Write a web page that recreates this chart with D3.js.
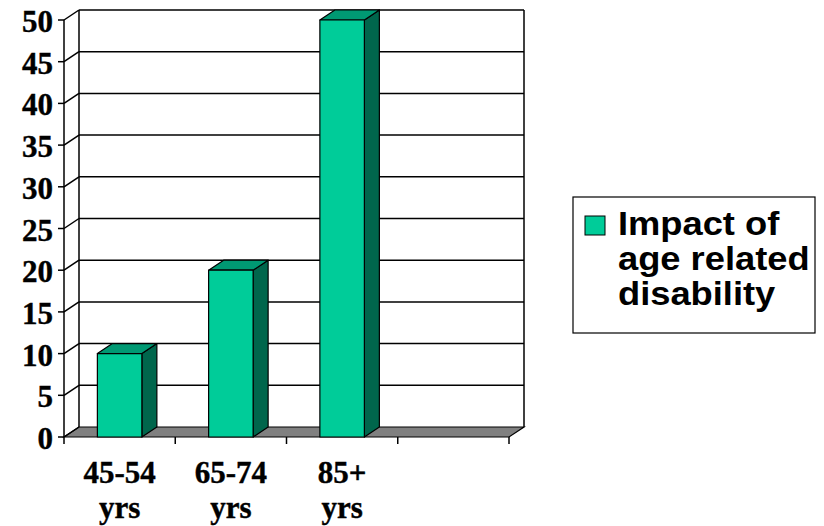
<!DOCTYPE html>
<html>
<head>
<meta charset="utf-8">
<script src="https://cdnjs.cloudflare.com/ajax/libs/d3/7.8.5/d3.min.js"></script>
<style>
  body { margin: 0; background: #fff; }
  svg { display: block; }
</style>
</head>
<body>
<div id="chart"></div>
<script>
var categories = ['45-54 yrs', '65-74 yrs', '85+ yrs'];
var values = [10, 20, 50];
var yTicks = [0, 5, 10, 15, 20, 25, 30, 35, 40, 45, 50];
var seriesName = ['Impact of', 'age related', 'disability'];

var width = 824,
	height = 526;

// depth offset of the 3D walls
var dx = 15,
	dy = -10;

var svg = d3.select('#chart')
		.append('svg')
		.attr('width', width)
		.attr('height', height)

// one empty slot on the right, like the original
var slots = categories.concat(['']);

var x = d3.scaleBand()
		.domain(slots)
		.range([64, 509])

var y = d3.scaleLinear()
		.domain([0, 50])
		.range([437, 20])

var x0 = x.range()[0],
	x1 = x.range()[1];

/***** walls *****/
var walls = svg.append('g').attr('stroke', '#000').attr('stroke-width', 1.5).attr('fill', 'none');

// floor
walls.append('path')
	.attr('d', `M${x0},${y(0)} L${x1},${y(0)} L${x1 + dx},${y(0) + dy} L${x0 + dx},${y(0) + dy} Z`)
	.attr('fill', '#808080')
	.attr('stroke-width', 1.2)

// back wall gridlines
walls.selectAll('.grid')
	.data(yTicks.filter(d => d > 0))
	.enter()
	.append('line')
	.attr('x1', x0 + dx)
	.attr('x2', x1 + dx)
	.attr('y1', d => y(d) + dy)
	.attr('y2', d => y(d) + dy)

// left wall diagonals
walls.selectAll('.diag')
	.data(yTicks)
	.enter()
	.append('line')
	.attr('x1', x0)
	.attr('x2', x0 + dx)
	.attr('y1', d => y(d))
	.attr('y2', d => y(d) + dy)

// wall edges
walls.append('line')
	.attr('x1', x0 + dx).attr('x2', x0 + dx)
	.attr('y1', y(50) + dy).attr('y2', y(0) + dy)
walls.append('line')
	.attr('x1', x1 + dx).attr('x2', x1 + dx)
	.attr('y1', y(50) + dy).attr('y2', y(0) + dy)

// front y axis line and ticks
walls.append('line')
	.attr('x1', x0).attr('x2', x0)
	.attr('y1', y(50)).attr('y2', y(0))
walls.selectAll('.ytick')
	.data(yTicks)
	.enter()
	.append('line')
	.attr('x1', x0 - 6)
	.attr('x2', x0)
	.attr('y1', d => y(d))
	.attr('y2', d => y(d))

// category ticks
walls.selectAll('.xtick')
	.data(slots.map(d => x(d)).concat([x1]))
	.enter()
	.append('line')
	.attr('x1', d => d)
	.attr('x2', d => d)
	.attr('y1', y(0))
	.attr('y2', y(0) + 7)

/***** bars *****/
var barW = x.bandwidth() * 0.4;

var bars = svg.selectAll('.bar')
		.data(categories.map((c, i) => ({ key: c, value: values[i] })))
		.enter()
		.append('g')
		.attr('stroke', '#000')
		.attr('stroke-width', 1.2)
		.attr('stroke-linejoin', 'round')

function bx(d) { return x(d.key) + (x.bandwidth() - barW) / 2; }

// side face
bars.append('path')
	.attr('fill', '#00664c')
	.attr('d', d => {
		var r = bx(d) + barW, t = y(d.value), b = y(0);
		return `M${r},${t} L${r + dx},${t + dy} L${r + dx},${b + dy} L${r},${b} Z`;
	})

// top face
bars.append('path')
	.attr('fill', '#009973')
	.attr('d', d => {
		var l = bx(d), r = l + barW, t = y(d.value);
		return `M${l},${t} L${l + dx},${t + dy} L${r + dx},${t + dy} L${r},${t} Z`;
	})

// front face
bars.append('rect')
	.attr('fill', '#00cc99')
	.attr('x', d => bx(d))
	.attr('y', d => y(d.value))
	.attr('width', barW)
	.attr('height', d => y(0) - y(d.value))

/***** labels *****/
svg.selectAll('.ylabel')
	.data(yTicks)
	.enter()
	.append('text')
	.attr('x', 53)
	.attr('y', d => y(d) + 12)
	.attr('text-anchor', 'end')
	.attr('font-family', '"Liberation Serif", "Times New Roman", serif')
	.attr('font-weight', 'bold')
	.attr('font-size', 31)
	.attr('stroke', '#000')
	.attr('stroke-width', 0.4)
	.text(d => d)

// two lines per category label, each its own text
var xLines = [];
categories.forEach(c => {
	c.split(' ').forEach((s, i) => xLines.push({ s: s, cx: x(c) + x.bandwidth() / 2, line: i }));
});

svg.selectAll('.xlabel')
	.data(xLines)
	.enter()
	.append('text')
	.attr('x', d => d.cx)
	.attr('y', d => 483 + d.line * 35)
	.attr('text-anchor', 'middle')
	.attr('font-family', '"Liberation Serif", "Times New Roman", serif')
	.attr('font-weight', 'bold')
	.attr('font-size', 31)
	.attr('stroke', '#000')
	.attr('stroke-width', 0.4)
	.text(d => d.s)

/***** legend *****/
var legend = svg.append('g').attr('transform', 'translate(573, 197)');

legend.append('rect')
	.attr('width', 242)
	.attr('height', 136)
	.attr('fill', '#fff')
	.attr('stroke', '#000')
	.attr('stroke-width', 1.2)

legend.append('rect')
	.attr('x', 12)
	.attr('y', 19)
	.attr('width', 20)
	.attr('height', 19)
	.attr('fill', '#00cc99')
	.attr('stroke', '#000')

legend.selectAll('.ltext')
	.data(seriesName)
	.enter()
	.append('text')
	.attr('transform', (d, i) => `translate(45, ${38 + i * 35}) scale(1.1, 1)`)
	.attr('font-family', '"Liberation Sans", Arial, sans-serif')
	.attr('font-weight', 'bold')
	.attr('font-size', 33)
	.text(d => d)
</script>
</body>
</html>
